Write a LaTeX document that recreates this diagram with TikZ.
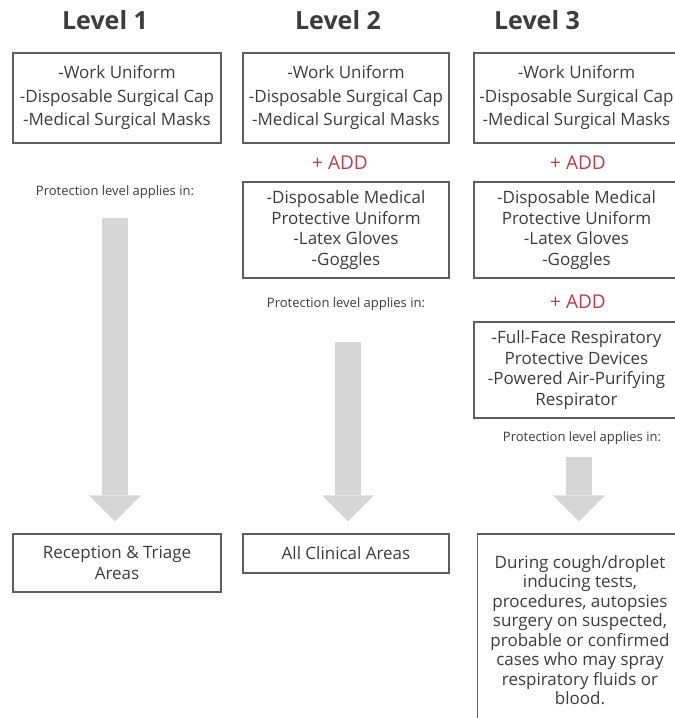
\documentclass[tikz,border=0pt]{standalone}
\usepackage{fontspec}
\setmainfont{Open Sans}
\usepackage{tikz}
\usetikzlibrary{arrows.meta}

\definecolor{txt}{RGB}{60,60,60}
\definecolor{edge}{RGB}{95,95,95}
\definecolor{addred}{RGB}{190,60,70}
\definecolor{arrowgray}{RGB}{214,214,214}

\newcommand{\titlefont}{\fontsize{25}{30}\bfseries\selectfont}
\newcommand{\basefont}{\fontsize{17}{23.5}\selectfont}
\newcommand{\boxfont}{\fontsize{17}{20.6}\selectfont}
\newcommand{\areafont}{\fontsize{17}{19.5}\selectfont}
\newcommand{\addfont}{\fontsize{19}{22}\selectfont}
\newcommand{\applyfont}{\fontsize{13}{15}\selectfont}

\tikzset{
  head/.style={text=txt, font=\titlefont},
  itembox/.style={draw=edge, line width=1.4pt, align=center, text=txt, inner sep=0pt},
  addnote/.style={text=addred, font=\addfont},
  applynote/.style={text=txt, font=\applyfont, inner sep=2pt},
  blockarrow/.style={draw=arrowgray, line width=26pt, shorten >=12pt,
    -{Triangle[length=26pt, width=52pt, line width=0pt]}}
}

\begin{document}
\begin{tikzpicture}[x=1pt,y=-1pt]
\useasboundingbox (0,0) rectangle (675,718);

\node[head] (lvl1) at (105,20) {Level 1};
\node[head] (lvl2) at (338,20) {Level 2};
\node[head] (lvl3) at (537,20) {Level 3};

\node[itembox, font=\basefont, minimum width=208, minimum height=90] (base1) at (117,98)
  {-Work Uniform\\-Disposable Surgical Cap\\-Medical Surgical Masks};
\node[itembox, font=\basefont, minimum width=206, minimum height=90] (base2) at (346,98)
  {-Work Uniform\\-Disposable Surgical Cap\\-Medical Surgical Masks};
\node[itembox, font=\basefont, minimum width=205, minimum height=90] (base3) at (576.5,98)
  {-Work Uniform\\-Disposable Surgical Cap\\-Medical Surgical Masks};

\node[addnote] (add2) at (340,163) {+ ADD};
\node[addnote] (add3) at (578,163) {+ ADD};
\node[applynote] (apply1) at (115,192) {Protection level applies in:};

\node[itembox, font=\boxfont, minimum width=206, minimum height=96] (extra2) at (346,230)
  {-Disposable Medical\\Protective Uniform\\-Latex Gloves\\-Goggles};
\node[itembox, font=\boxfont, minimum width=205, minimum height=96] (extra3) at (576.5,230)
  {-Disposable Medical\\Protective Uniform\\-Latex Gloves\\-Goggles};

\node[applynote] (apply2) at (346,304) {Protection level applies in:};
\node[addnote] (add3b) at (578,302) {+ ADD};

\node[itembox, font=\boxfont, minimum width=205, minimum height=96] (resp3) at (576.5,370)
  {-Full-Face Respiratory\\Protective Devices\\-Powered Air-Purifying\\Respirator};
\node[applynote] (apply3) at (582,438) {Protection level applies in:};

\node[itembox, font=\boxfont, minimum width=208, minimum height=58] (area1) at (117,563)
  {Reception \& Triage\\Areas};
\node[itembox, font=\boxfont, minimum width=206, minimum height=39] (area2) at (346,553.5)
  {All Clinical Areas};
\node[itembox, font=\areafont, minimum width=205, minimum height=192] (area3) at (580,630)
  {During cough/droplet\\inducing tests,\\procedures, autopsies\\surgery on suspected,\\probable or confirmed\\cases who may spray\\respiratory fluids or\\blood.};

\draw[blockarrow, shorten <=17.5pt] (apply1.south) -- (apply1.south |- area1.north);
\draw[blockarrow, shorten <=29.5pt] ([xshift=2pt]apply2.south) -- ([xshift=2pt]apply2.south |- area2.north);
\draw[blockarrow, shorten <=10.5pt] ([xshift=-3pt]apply3.south) -- ([xshift=-3pt]apply3.south |- area3.north);
\end{tikzpicture}
\end{document}
